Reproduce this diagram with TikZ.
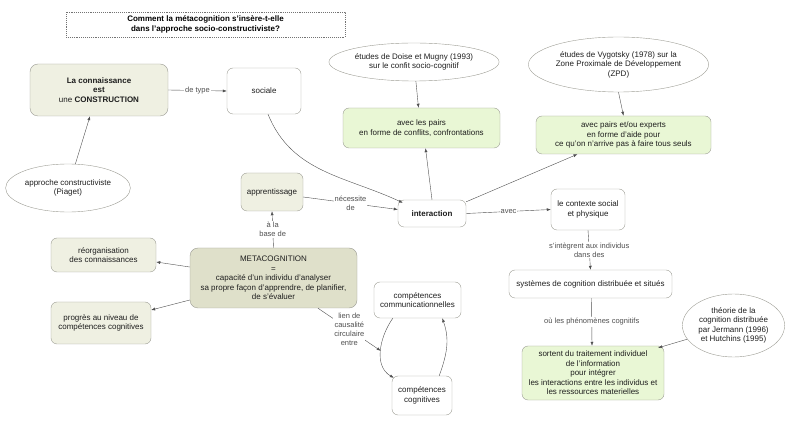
\documentclass[tikz,border=0pt]{standalone}
\usepackage{fontspec}
\setmainfont{Liberation Sans}
\usetikzlibrary{shapes.geometric,arrows.meta}
\definecolor{bord}{HTML}{9C9C94}
\definecolor{trait}{HTML}{505050}
\definecolor{texte}{HTML}{1E1E1E}
\definecolor{beige}{HTML}{EFF0E2}
\definecolor{olive}{HTML}{DFE0CA}
\definecolor{vert}{HTML}{E9F7D5}
\def\nf{\fontsize{8}{9.5}\selectfont}
\def\lf{\fontsize{7.5}{8.8}\selectfont}
\tikzset{
	concept/.style={draw=bord, rounded corners=6pt, align=center, font=\nf, text=texte, inner sep=2pt},
	idee/.style={concept, fill=beige},
	meta/.style={concept, fill=olive},
	pairs/.style={concept, fill=vert},
	source/.style={draw=bord, ellipse, align=center, font=\nf, text=texte, inner sep=1pt},
	fleche/.style={draw=trait, -{Latex[length=4pt,width=3pt]}},
	lien/.style={fill=white, font=\lf, text=trait, align=center, inner sep=1pt}
}

\begin{document}
\begin{tikzpicture}[x=1pt,y=-1pt]
\useasboundingbox (0,0) rectangle (800,427);

\node[draw=trait!80, densely dotted, line width=0.9pt, font=\nf\bfseries, align=center, minimum width=279pt, minimum height=25pt] (titre) at (205.5,24.5)
	{Comment la métacognition s'insère-t-elle\\dans l'approche socio-constructiviste?};

\node[idee, minimum width=138pt, minimum height=52pt, rounded corners=8pt] (connaissance) at (99,90)
	{\textbf{La connaissance}\\\textbf{est}\\une \textbf{CONSTRUCTION}};
\node[concept, minimum width=74pt, minimum height=46pt] (sociale) at (264,91) {sociale};
\node[source, minimum width=112pt, minimum height=48pt] (piaget) at (68,188) {approche constructiviste\\(Piaget)};

\node[source, minimum width=149pt, minimum height=38pt] (doise) at (414,62)
	{études de Doise et Mugny (1993)\\sur le confit socio-cognitif};
\node[pairs, minimum width=157pt, minimum height=40pt] (avecpairs) at (421.5,128)
	{avec les pairs\\en forme de conflits, confrontations};
\node[source, minimum width=163pt, minimum height=55pt] (vygotsky) at (618.5,64.5)
	{études de Vygotsky (1978) sur la\\Zone Proximale de Développement\\(ZPD)};
\node[pairs, minimum width=175pt, minimum height=38pt] (experts) at (623.5,135)
	{avec pairs et/ou experts\\en forme d'aide pour\\ce qu'on n'arrive pas à faire tous seuls};

\node[idee, minimum width=62pt, minimum height=38pt] (apprentissage) at (272,192) {apprentissage};
\node[concept, minimum width=68pt, minimum height=27pt, font=\nf\bfseries] (interaction) at (432,213.5) {interaction};
\node[concept, minimum width=74pt, minimum height=41pt] (contexte) at (588,209.5) {le contexte social\\et physique};
\node[concept, minimum width=163pt, minimum height=28pt] (systemes) at (590.5,284)
	{systèmes de cognition distribuée et situés};
\node[pairs, minimum width=142pt, minimum height=54pt] (sortent) at (593,373)
	{sortent du traitement individuel\\de l'information\\pour intégrer\\les interactions entre les individus et\\les ressources materielles};
\node[source, minimum width=95pt, minimum height=63pt] (theorie) at (733.5,325.5)
	{théorie de la\\cognition distribuée\\par Jermann (1996)\\et Hutchins (1995)};

\node[meta, minimum width=167pt, minimum height=60pt, rounded corners=8pt] (metacog) at (273.5,278)
	{METACOGNITION\\=\\capacité d'un individu d'analyser\\sa propre façon d'apprendre, de planifier,\\de s'évaluer};
\node[idee, minimum width=105pt, minimum height=34pt] (reorg) at (103.5,255) {réorganisation\\des connaissances};
\node[idee, minimum width=100pt, minimum height=42pt] (progres) at (101,323) {progrès au niveau de\\compétences cognitives};
\node[concept, minimum width=87pt, minimum height=36pt] (commu) at (417.5,300) {compétences\\communicationnelles};
\node[concept, minimum width=60pt, minimum height=39pt] (cognitives) at (422,395.5) {compétences\\cognitives};

\draw[fleche] (connaissance.east) -- node[lien]{de type} (sociale.west);
\draw[fleche] (piaget) -- ([xshift=-9pt]connaissance.south);
\draw[fleche] (doise) -- ([xshift=-3pt]avecpairs.north);
\draw[fleche] (vygotsky.south) -- (experts.north);
\draw[fleche] ([xshift=4pt]sociale.south) to[out=-68, in=155] ([xshift=5pt,yshift=-3pt]interaction.north west);
\draw[fleche] ([yshift=-5pt]apprentissage.east) -- node[lien]{nécessite\\de} ([yshift=4pt]interaction.west);
\draw[fleche] (interaction.north) -- ([xshift=4pt]avecpairs.south);
\draw[fleche] ([yshift=-2pt]interaction.north east) -- ([xshift=-46pt]experts.south);
\draw[fleche] (interaction.east) -- node[lien]{avec} (contexte.west);
\draw[fleche] (contexte.south) -- node[lien]{s'intègrent aux individus\\dans des} (systemes.north);
\draw[fleche] ([xshift=1pt]systemes.south) -- node[lien]{où les phénomènes cognitifs} ([xshift=-1pt]sortent.north);
\draw[fleche] (theorie) -- ([xshift=-6pt,yshift=-2pt]sortent.north east);

\draw[fleche] (metacog.north) -- node[lien]{à la\\base de} (apprentissage.south);
\draw[fleche] ([yshift=11pt]metacog.west) -- ([yshift=-7pt]reorg.east);
\draw[fleche] ([yshift=-22pt]metacog.west) -- ([yshift=13pt]progres.east);

\draw[fleche] ([xshift=19pt]commu.south west) to[out=-125, in=150] coordinate[pos=0.5] (boucle) ([xshift=2pt,yshift=-2pt]cognitives.north west);
\draw[fleche] ([xshift=-13pt]cognitives.north east) to[out=70, in=-70] ([xshift=-19pt]commu.south east);
\draw[fleche] (metacog) -- node[lien]{lien de\\causalité\\circulaire\\entre} (boucle);
\end{tikzpicture}
\end{document}
